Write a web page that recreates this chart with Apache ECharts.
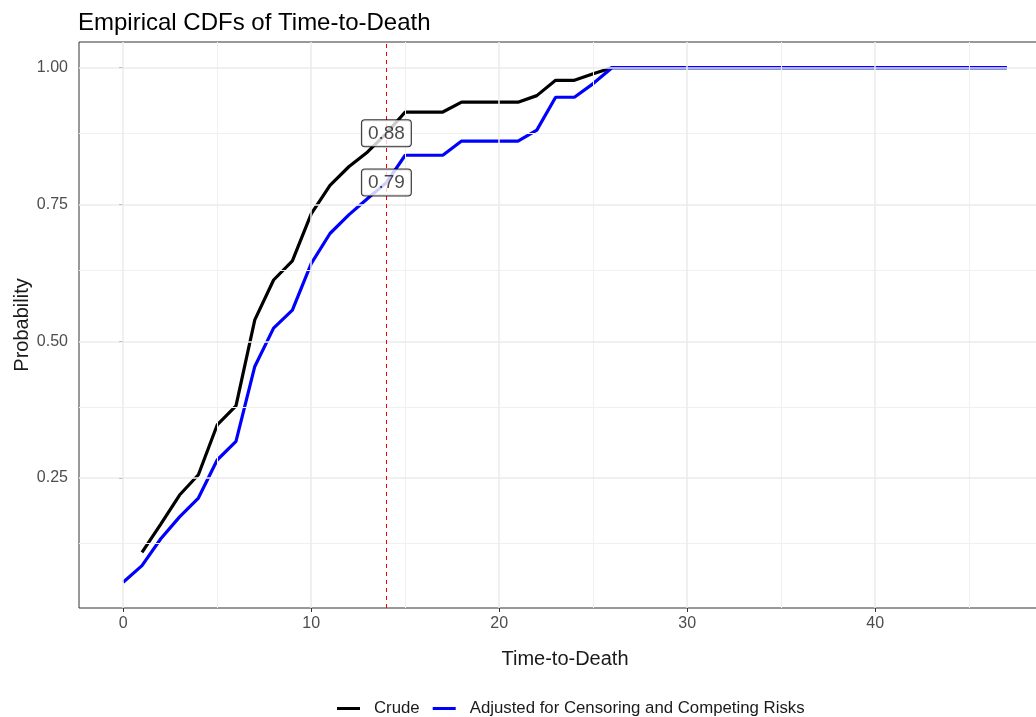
<!DOCTYPE html>
<html>
<head>
<meta charset="utf-8">
<script src="https://cdn.jsdelivr.net/npm/echarts@6/dist/echarts.min.js"></script>
<style>
html, body { margin: 0; padding: 0; background: #fff; }
#chart { width: 1036px; height: 717px; }
</style>
</head>
<body>
<div id="chart"></div>
<script>
// values
var crudeTime = [1, 2, 3, 4, 5, 6, 7, 8, 9, 10, 11, 12, 13, 14, 15, 16, 17, 18, 19, 20, 21, 22, 23, 24, 25, 26, 47];
var crudeProb = [0.114, 0.166, 0.219, 0.256, 0.347, 0.382, 0.539, 0.612, 0.647, 0.733, 0.785, 0.819, 0.846, 0.88,
    0.919, 0.919, 0.919, 0.937, 0.937, 0.937, 0.937, 0.949, 0.977, 0.977, 0.989, 1, 1];

var adjTime = [0, 1, 2, 3, 4, 5, 6, 7, 8, 9, 10, 11, 12, 13, 14, 15, 16, 17, 18, 19, 20, 21, 22, 23, 24, 25, 26, 47];
var adjProb = [0.0595, 0.090, 0.139, 0.179, 0.2135, 0.283, 0.317, 0.454, 0.524, 0.557, 0.642, 0.697, 0.731, 0.761,
    0.79, 0.84, 0.84, 0.84, 0.866, 0.866, 0.866, 0.866, 0.886, 0.946, 0.946, 0.971, 1, 1];

var cutoffTime = 14;
var labelProb = [0.88, 0.79];

var seriesNames = ['Crude', 'Adjusted for Censoring and Competing Risks'];

var xMajor = [0, 10, 20, 30, 40];
var xMinor = [5, 15, 25, 35, 45];
var yMajor = [0.25, 0.5, 0.75, 1];
var yMinor = [0.125, 0.375, 0.625, 0.875];

var FONT = '"Liberation Sans", Arial, sans-serif';

function zip(xs, ys) {
    return xs.map(function (x, i) { return [x, ys[i]]; });
}

var majorStyle = { color: '#ebebeb', width: 1.5, type: 'solid' };
var minorStyle = { color: '#f0f0f0', width: 1, type: 'solid' };
var gridLines = []
    .concat(xMinor.map(function (v) { return { xAxis: v, lineStyle: minorStyle }; }))
    .concat(yMinor.map(function (v) { return { yAxis: v, lineStyle: minorStyle }; }))
    .concat(xMajor.map(function (v) { return { xAxis: v, lineStyle: majorStyle }; }))
    .concat(yMajor.map(function (v) { return { yAxis: v, lineStyle: majorStyle }; }));

var chart = echarts.init(document.getElementById('chart'));

chart.setOption({
    animation: false,
    backgroundColor: '#fff',
    textStyle: { fontFamily: FONT },
    title: {
        text: 'Empirical CDFs of Time-to-Death',
        left: 73,
        top: 6,
        textStyle: { fontFamily: FONT, fontSize: 24, fontWeight: 'normal', color: '#000' }
    },
    legend: {
        data: seriesNames,
        left: 332,
        top: 695,
        icon: 'rect',
        itemWidth: 23,
        itemHeight: 3,
        itemGap: 13,
        textStyle: { fontFamily: FONT, fontSize: 16.8, color: '#1a1a1a', padding: [0, 0, 0, 9] }
    },
    grid: {
        left: 79,
        top: 42,
        right: -15,
        bottom: 109,
        outerBoundsMode: 'none',
        containLabel: false,
        show: true,
        borderColor: '#333',
        borderWidth: 1,
        backgroundColor: '#fff'
    },
    xAxis: {
        type: 'value',
        min: -2.35,
        max: 49.35,
        name: 'Time-to-Death',
        nameLocation: 'middle',
        nameGap: 41,
        nameTextStyle: { fontFamily: FONT, fontSize: 20, color: '#1a1a1a' },
        axisLine: { show: false },
        axisTick: { show: true, customValues: xMajor, length: 4, lineStyle: { color: '#333' } },
        axisLabel: { customValues: xMajor, margin: 8, fontSize: 16, color: '#4d4d4d', fontFamily: FONT },
        splitLine: { show: false }
    },
    yAxis: {
        type: 'value',
        min: 0.0125,
        max: 1.047,
        name: 'Probability',
        nameLocation: 'middle',
        nameGap: 47,
        nameMoveOverlap: false,
        nameTextStyle: { fontFamily: FONT, fontSize: 20, color: '#1a1a1a' },
        axisLine: { show: false },
        axisTick: { show: true, customValues: yMajor, length: 4, lineStyle: { color: '#333' } },
        axisLabel: {
            customValues: yMajor, margin: 11, fontSize: 16, color: '#4d4d4d', fontFamily: FONT,
            formatter: function (v) { return v.toFixed(2); }
        },
        splitLine: { show: false }
    },
    series: [
        {
            name: 'gridlines',
            type: 'line',
            data: [],
            z: 1,
            silent: true,
            markLine: {
                silent: true,
                symbol: 'none',
                label: { show: false },
                data: gridLines
            }
        },
        {
            name: seriesNames[0],
            type: 'line',
            data: zip(crudeTime, crudeProb),
            showSymbol: false,
            z: 3,
            lineStyle: { color: '#000', width: 3.2 },
            itemStyle: { color: '#000' }
        },
        {
            name: seriesNames[1],
            type: 'line',
            data: zip(adjTime, adjProb),
            showSymbol: false,
            z: 4,
            lineStyle: { color: '#0000ff', width: 3.2 },
            itemStyle: { color: '#0000ff' }
        },
        {
            name: 'cutoff',
            type: 'line',
            data: [],
            z: 5,
            silent: true,
            markLine: {
                silent: true,
                symbol: 'none',
                label: { show: false },
                lineStyle: { color: '#ff0000', width: 1, type: [4, 4] },
                data: [{ xAxis: cutoffTime }]
            }
        },
        {
            name: 'labels',
            type: 'scatter',
            z: 6,
            symbolSize: 0,
            data: labelProb.map(function (p) { return [cutoffTime, p]; }),
            label: {
                show: true,
                position: 'inside',
                formatter: function (p) { return p.value[1].toFixed(2); },
                fontFamily: FONT,
                fontSize: 19,
                color: '#1a1a1a',
                backgroundColor: '#fff',
                borderColor: '#000',
                borderWidth: 1,
                borderRadius: 3,
                padding: [4, 6, 3, 6]
            }
        }
    ]
});
</script>
</body>
</html>
